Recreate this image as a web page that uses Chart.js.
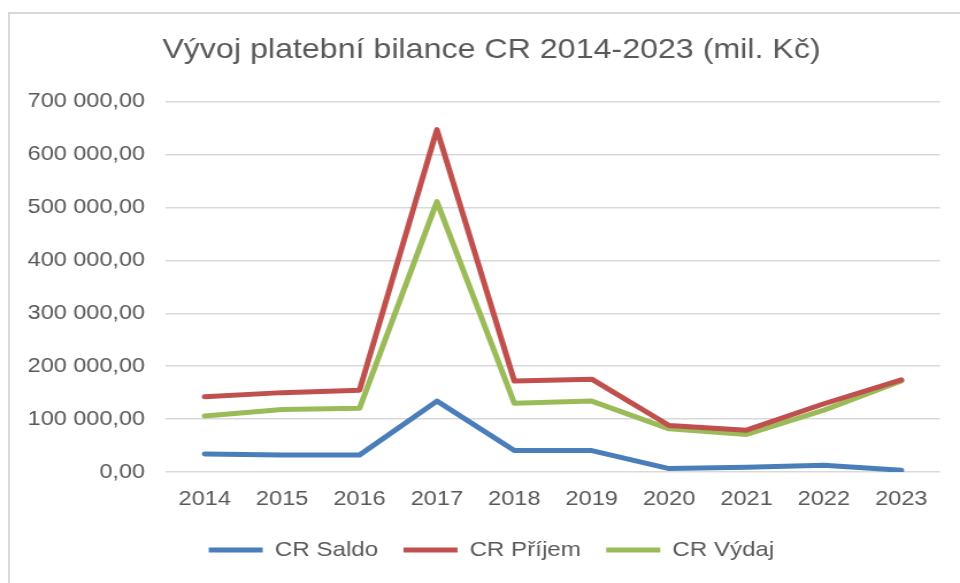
<!DOCTYPE html>
<html>
<head>
<meta charset="utf-8">
<script src="https://cdn.jsdelivr.net/npm/chart.js@4"></script>
<style>
  html, body { margin: 0; padding: 0; background: #fff; }
  #wrap { position: relative; width: 960px; height: 583px; overflow: hidden; }
  #frame { position: absolute; left: 8px; top: 12px; width: 1000px; height: 1000px; border: 2px solid #d9d9d9; box-sizing: border-box; }
  #c { position: absolute; left: 0; top: 0; width: 835px; height: 583px; transform: scaleX(1.1497); transform-origin: 0 0; }
</style>
</head>
<body>
<div id="wrap">
  <div id="frame"></div>
  <canvas id="c" width="835" height="583"></canvas>
</div>
<script>
const years = ['2014','2015','2016','2017','2018','2019','2020','2021','2022','2023'];
const saldo  = [34000, 32000, 32000, 134000, 40500, 40500, 6500, 9000, 12700, 3300];
const prijem = [142000, 150000, 154500, 647000, 172000, 175500, 88000, 79000, 129000, 174000];
const vydaj  = [105700, 118000, 120300, 511000, 129800, 134000, 81600, 71000, 117000, 172000];
const seriesNames = ['CR Saldo', 'CR Příjem', 'CR Výdaj'];
const seriesColors = ['#4a7ebb', '#c0504d', '#9bbb59'];
const yTicks = { min: 0, max: 700000, step: 100000 };

const FONT = "'Liberation Sans', Arial, sans-serif";
const TXT = '#595959';

function fmt(v) {
  return String(Math.round(v)).replace(/\B(?=(\d{3})+(?!\d))/g, ' ') + ',00';
}

const ds = [saldo, prijem, vydaj].map((d, i) => ({
  label: seriesNames[i],
  data: d,
  borderColor: seriesColors[i],
  backgroundColor: seriesColors[i],
  borderWidth: 5,
  borderCapStyle: 'round',
  borderJoinStyle: 'round',
  pointRadius: 0,
  pointHoverRadius: 0,
  pointStyle: 'line',
  tension: 0,
  fill: false
}));

new Chart(document.getElementById('c'), {
  type: 'line',
  data: { labels: years, datasets: ds },
  options: {
    responsive: false,
    animation: false,
    devicePixelRatio: 1,
    layout: { padding: { left: 20, right: 0, top: 0, bottom: 12.5 } },
    plugins: {
      title: {
        display: true,
        text: 'Vývoj platební bilance CR 2014-2023 (mil. Kč)',
        color: TXT,
        font: { family: FONT, size: 28, weight: 'normal' },
        padding: { top: 33, bottom: 35 }
      },
      legend: {
        position: 'bottom',
        labels: {
          color: TXT,
          font: { family: FONT, size: 21 },
          usePointStyle: true,
          pointStyleWidth: 47,
          boxHeight: 21,
          padding: 22
        }
      },
      tooltip: { enabled: false }
    },
    scales: {
      x: {
        offset: true,
        grid: { display: false, drawTicks: false },
        border: { display: false },
        ticks: { color: TXT, font: { family: FONT, size: 20.5 }, padding: 15, maxRotation: 0 },
        afterFit: s => { s.height = 45.5; }
      },
      y: {
        min: yTicks.min, max: yTicks.max,
        border: { display: false },
        grid: { color: '#d9d9d9', lineWidth: 1.5, drawTicks: false },
        ticks: { stepSize: yTicks.step, color: TXT, font: { family: FONT, size: 20.4 }, padding: 18.3, callback: v => fmt(v) },
        afterFit: s => { s.width = 124.4; }
      },
      yRight: {
        position: 'right',
        display: true,
        grid: { display: false, drawTicks: false },
        border: { display: false },
        ticks: { display: false },
        afterFit: s => { s.width = 17.4; }
      }
    }
  }
});
</script>
</body>
</html>
